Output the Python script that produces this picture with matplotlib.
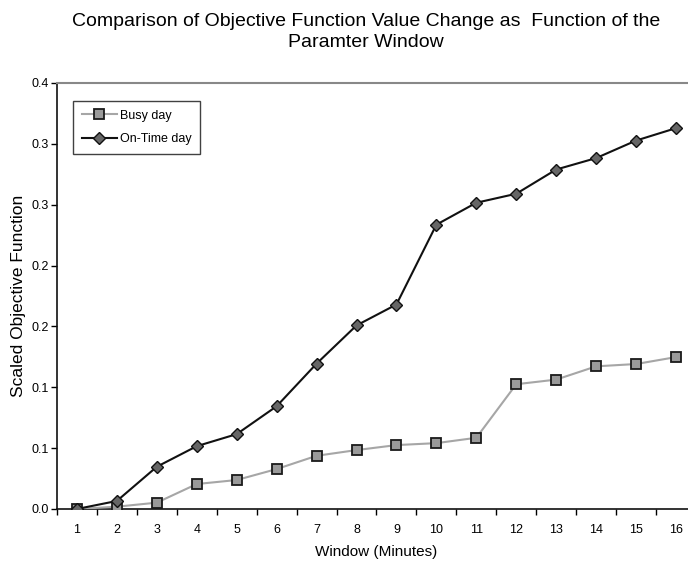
import numpy as np
import matplotlib
matplotlib.use("Agg")
import matplotlib.pyplot as plt
from matplotlib.ticker import FixedLocator, FuncFormatter

plt.rcParams['font.family'] = ['Liberation Sans', 'DejaVu Sans']

window = list(range(1, 17))
busy_day = [0.0, 0.0019, 0.0052, 0.0205, 0.0238, 0.0328, 0.0437, 0.0484,
            0.0525, 0.0541, 0.0585, 0.1025, 0.1063, 0.1172, 0.1191, 0.1248]
ontime_day = [0.0, 0.0066, 0.0347, 0.0516, 0.0615, 0.0844, 0.1194, 0.1508,
              0.168, 0.2336, 0.2516, 0.259, 0.2789, 0.2883, 0.3027, 0.3129]
y_ticks = [0.0, 0.05, 0.10, 0.15, 0.20, 0.25, 0.30, 0.35]

fig = plt.figure(figsize=(6.88, 5.68), dpi=100)
ax = fig.add_axes([0.0828, 0.1039, 0.9288, 0.75])

ax.plot(window, busy_day, color="#a6a6a6", lw=1.5, marker="s", ms=7.5,
        mfc="#9a9a9a", mec="#1a1a1a", mew=1.3, label="Busy day", zorder=3)
ax.plot(window, ontime_day, color="#111111", lw=1.5, marker="D", ms=6,
        mfc="#666666", mec="#111111", mew=1.0, label="On-Time day", zorder=4)

ax.set_xlim(0.5, 16.5)
ax.set_ylim(0, 0.35)
ax.set_xticks(window)
ax.set_xticklabels([str(w) for w in window], fontsize=9)
ax.xaxis.set_minor_locator(FixedLocator(np.arange(0.5, 17, 1.0)))
ax.tick_params(axis="x", which="major", length=0, pad=11)
ax.tick_params(axis="x", which="minor", length=4, width=1, direction="out")
ax.set_yticks(y_ticks)
# one-decimal labels, rounding halves up like a spreadsheet does
ax.yaxis.set_major_formatter(FuncFormatter(lambda v, p: f"{np.floor(v * 10 + 0.5 + 1e-9) / 10:.1f}"))
ax.tick_params(axis="y", length=4, width=1, direction="out", labelsize=9, pad=2)

for s in ("left", "bottom"):
    ax.spines[s].set_color("#111111")
    ax.spines[s].set_linewidth(1.2)
ax.spines["top"].set_color("#888888")
ax.spines["top"].set_linewidth(1.5)
ax.spines["right"].set_visible(False)

ax.set_xlabel("Window (Minutes)", fontsize=11, labelpad=6)
ax.set_ylabel("Scaled Objective Function", fontsize=12.5, labelpad=4)

fig.text(0.532, 0.977, "Comparison of Objective Function Value Change as  Function of the\nParamter Window",
         ha="center", va="top", fontsize=14, linespacing=1.28)

leg = ax.legend(loc="upper left", bbox_to_anchor=(0.025, 0.958), borderaxespad=0,
                fontsize=9, frameon=True, fancybox=False, borderpad=0.7,
                handlelength=2.8, labelspacing=0.9, handletextpad=0.25)
leg.get_frame().set_edgecolor("#111111")
leg.get_frame().set_linewidth(1.0)

fig.savefig("out.png", dpi=100)
